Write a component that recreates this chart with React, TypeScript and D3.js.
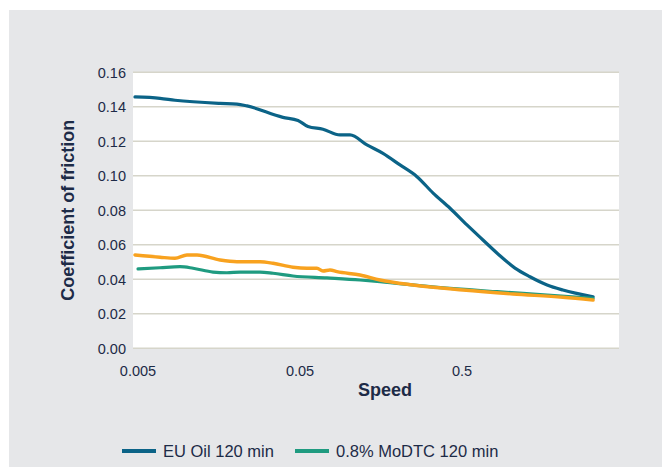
import React from "react";
import * as d3 from "d3";

// Speed values (log axis) and coefficient of friction for each test oil
const euOilSpeed = [0.00514, 0.00734, 0.00908, 0.0172, 0.0219, 0.0253, 0.0421, 0.0522, 0.0601, 0.0744, 0.0948, 0.1093, 0.139, 0.1746, 0.2224, 0.283, 0.356, 0.453, 0.576, 0.723, 0.895, 1.14, 1.41, 1.8, 2.25, 3.46];
const euOilCof = [0.1457, 0.1449, 0.1438, 0.142, 0.1416, 0.1405, 0.1339, 0.1321, 0.1286, 0.127, 0.1237, 0.1237, 0.1179, 0.113, 0.1063, 0.0995, 0.09, 0.0812, 0.0715, 0.0628, 0.0547, 0.0465, 0.0415, 0.0367, 0.0338, 0.0299];

const modtcSpeed = [0.00537, 0.00734, 0.00975, 0.01174, 0.01558, 0.019, 0.0229, 0.0304, 0.0366, 0.0486, 0.0788, 0.126, 0.1674, 0.34, 0.883, 1.8, 3.46];
const modtcCof = [0.046, 0.0467, 0.0473, 0.0464, 0.0442, 0.0438, 0.0442, 0.0442, 0.0435, 0.0419, 0.0408, 0.0396, 0.0386, 0.0357, 0.0328, 0.0309, 0.029];

const thirdSpeed = [0.00514, 0.00734, 0.00908, 0.01077, 0.01242, 0.0172, 0.0219, 0.0304, 0.0366, 0.0486, 0.0593, 0.0683, 0.0744, 0.0822, 0.0908, 0.126, 0.1674, 0.2675, 0.544, 1.108, 2.25, 3.46];
const thirdCof = [0.0541, 0.0528, 0.0522, 0.0541, 0.0541, 0.0512, 0.0502, 0.0502, 0.0493, 0.047, 0.0464, 0.0464, 0.0448, 0.0454, 0.0444, 0.0425, 0.0396, 0.0367, 0.0338, 0.0315, 0.0296, 0.028];

const xTicks = [0.005, 0.05, 0.5];
const xTickLabels = ["0.005", "0.05", "0.5"];
const yTicks = [0, 0.02, 0.04, 0.06, 0.08, 0.1, 0.12, 0.14, 0.16];

const legendNames = ["EU Oil 120 min", "0.8% MoDTC 120 min"];

const BLUE = "#0b6387";
const GREEN = "#1f9b80";
const ORANGE = "#f8a21f";
const TEXT = "#1d2b47";
const GRID = "#d6d5ca";
const FONT = "'Liberation Sans', Arial, Helvetica, sans-serif";

export default function App() {
  const W = 669;
  const H = 467;
  const plot = { left: 133, right: 619, top: 72.3, bottom: 348.3 };

  const x = d3.scaleLog().domain([0.005, 5]).range([plot.left, plot.right]);
  const y = d3.scaleLinear().domain([0, 0.16]).range([plot.bottom, plot.top]);

  const line = d3
    .line<[number, number]>()
    .x((d) => x(d[0]))
    .y((d) => y(d[1]))
    .curve(d3.curveMonotoneX);

  const series = [
    { speed: euOilSpeed, cof: euOilCof, color: BLUE, width: 3.2 },
    { speed: modtcSpeed, cof: modtcCof, color: GREEN, width: 3.2 },
    { speed: thirdSpeed, cof: thirdCof, color: ORANGE, width: 3.4 },
  ];

  const legendItems = [
    { name: legendNames[0], color: BLUE, x: 122 },
    { name: legendNames[1], color: GREEN, x: 295 },
  ];

  return (
    <svg
      width={W}
      height={H}
      style={{ position: "absolute", left: 0, top: 0, background: "#ffffff" }}
      fontFamily={FONT}
    >
      <rect x={9} y={10} width={653} height={H - 10} fill="#e6e7e9" />
      <rect
        x={plot.left}
        y={plot.top}
        width={plot.right - plot.left}
        height={plot.bottom - plot.top}
        fill="#ffffff"
      />

      {yTicks.map((t) => (
        <g key={t}>
          <line
            x1={plot.left}
            x2={plot.right}
            y1={y(t)}
            y2={y(t)}
            stroke={GRID}
            strokeWidth={1.5}
          />
          <text
            x={126}
            y={y(t)}
            dy="0.36em"
            textAnchor="end"
            fontSize={14.5}
            fill={TEXT}
          >
            {t.toFixed(2)}
          </text>
        </g>
      ))}

      {xTicks.map((t, i) => (
        <text
          key={t}
          x={x(t) + 5}
          y={376}
          textAnchor="middle"
          fontSize={14.5}
          fill={TEXT}
        >
          {xTickLabels[i]}
        </text>
      ))}

      {series.map((s, i) => (
        <path
          key={i}
          d={line(s.speed.map((v, j) => [v, s.cof[j]] as [number, number])) || ""}
          fill="none"
          stroke={s.color}
          strokeWidth={s.width}
          strokeLinejoin="round"
          strokeLinecap="round"
        />
      ))}

      <text
        x={385}
        y={396}
        textAnchor="middle"
        fontSize={18}
        fontWeight="bold"
        fill={TEXT}
      >
        Speed
      </text>
      <text
        transform={`translate(74, ${(plot.top + plot.bottom) / 2}) rotate(-90)`}
        textAnchor="middle"
        fontSize={18}
        fontWeight="bold"
        fill={TEXT}
      >
        Coefficient of friction
      </text>

      {legendItems.map((item) => (
        <g key={item.name}>
          <line
            x1={item.x}
            x2={item.x + 34}
            y1={451}
            y2={451}
            stroke={item.color}
            strokeWidth={4}
          />
          <text x={item.x + 41} y={451} dy="0.36em" fontSize={16.5} fill={TEXT}>
            {item.name}
          </text>
        </g>
      ))}
    </svg>
  );
}
